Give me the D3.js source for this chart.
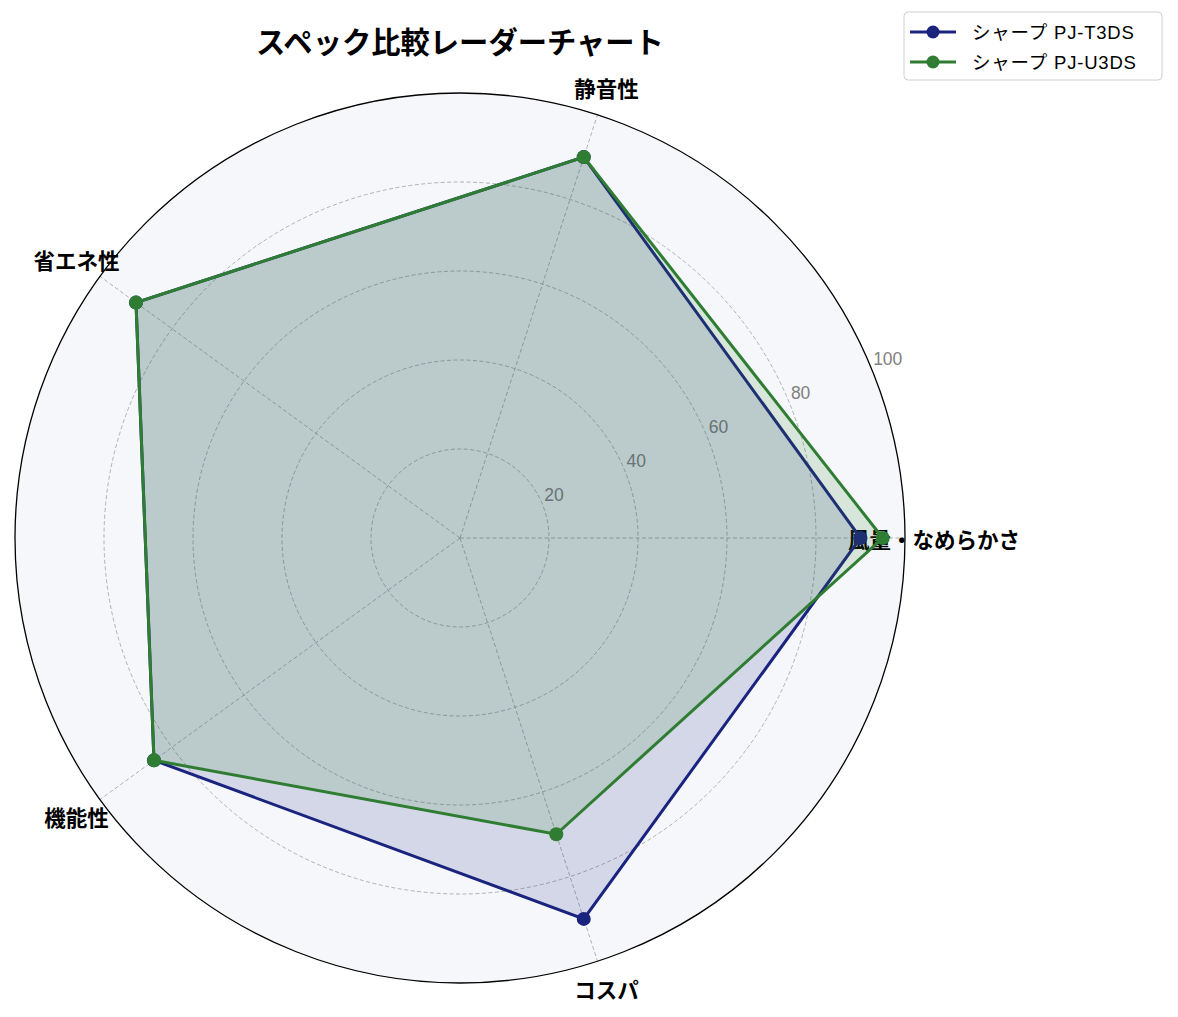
<!DOCTYPE html>
<html>
<head>
<meta charset="utf-8">
<script src="https://cdn.jsdelivr.net/npm/d3@7"></script>
<style>
  body { margin: 0; background: #fff; }
  svg { font-family: "Noto Sans CJK JP", "Noto Sans", sans-serif; }
</style>
</head>
<body>
<div id="chart"></div>
<script>
// data
const categories = ['風量・なめらかさ', '静音性', '省エネ性', '機能性', 'コスパ'];
const seriesNames = ['シャープ PJ-T3DS', 'シャープ PJ-U3DS'];
const valuesT3DS = [90, 90, 90, 85, 90];
const valuesU3DS = [95, 90, 90, 85, 70];
const radialTicks = [20, 40, 60, 80, 100];
const colors = ['#1a237e', '#2e7d32'];

const width = 1178, height = 1017;
const cx = 460, cy = 538, outerR = 445;

const svg = d3.select('#chart').append('svg')
  .attr('width', width)
  .attr('height', height);

const g = svg.append('g').attr('transform', `translate(${cx},${cy})`);

const r = d3.scaleLinear().domain([0, 100]).range([0, outerR]);
// angle in radians, counter-clockwise from the right
const angle = d3.scaleLinear().domain([0, categories.length]).range([0, 2 * Math.PI]);
const px = (i, v) => r(v) * Math.cos(angle(i));
const py = (i, v) => -r(v) * Math.sin(angle(i));

// background
g.append('circle').attr('r', outerR).attr('fill', '#f5f7fa');

// grid circles
g.selectAll('.grid')
  .data(radialTicks.slice(0, -1))
  .join('circle')
  .attr('class', 'grid')
  .attr('r', (d) => r(d))
  .attr('fill', 'none')
  .attr('stroke', '#a0a0a0')
  .attr('stroke-width', 0.8)
  .attr('stroke-dasharray', '4,2.5');

// spokes
g.selectAll('.spoke')
  .data(categories)
  .join('line')
  .attr('class', 'spoke')
  .attr('x1', 0).attr('y1', 0)
  .attr('x2', (d, i) => px(i, 100))
  .attr('y2', (d, i) => py(i, 100))
  .attr('stroke', '#a0a0a0')
  .attr('stroke-width', 0.8)
  .attr('stroke-dasharray', '4,2.5');

// outer border
g.append('circle').attr('r', outerR)
  .attr('fill', 'none').attr('stroke', '#000').attr('stroke-width', 1.3);

// radial tick labels
const tickAngle = 22.5 * Math.PI / 180;
g.selectAll('.rtick')
  .data(radialTicks)
  .join('text')
  .attr('class', 'rtick')
  .attr('x', (d) => r(d) * Math.cos(tickAngle) + 2)
  .attr('y', (d) => -r(d) * Math.sin(tickAngle) - 3)
  .attr('font-family', '"Liberation Sans", "Noto Sans", sans-serif')
  .attr('font-size', 17.5)
  .attr('fill', '#808080')
  .text((d) => d);

// category labels
g.selectAll('.cat')
  .data(categories)
  .join('text')
  .attr('class', 'cat')
  .attr('x', (d, i) => px(i, 106.5))
  .attr('y', (d, i) => py(i, 106.5))
  .attr('text-anchor', 'middle')
  .attr('dominant-baseline', 'central')
  .attr('font-size', 21.5)
  .attr('font-weight', 'bold')
  .attr('fill', '#000')
  .text((d) => d);

// series
const series = [valuesT3DS, valuesU3DS];
const line = d3.line().x((d) => d[0]).y((d) => d[1]);

series.forEach((vals, s) => {
  const pts = vals.map((v, i) => [px(i, v), py(i, v)]);
  g.append('path')
    .attr('d', line(pts) + 'Z')
    .attr('fill', colors[s])
    .attr('fill-opacity', 0.15)
    .attr('stroke', colors[s])
    .attr('stroke-width', 3)
    .attr('stroke-linejoin', 'miter');
  g.selectAll(`.pt${s}`)
    .data(pts)
    .join('circle')
    .attr('class', `pt${s}`)
    .attr('cx', (d) => d[0])
    .attr('cy', (d) => d[1])
    .attr('r', 7)
    .attr('fill', colors[s]);
});

// title
svg.append('text')
  .attr('x', cx)
  .attr('y', 53)
  .attr('text-anchor', 'middle')
  .attr('font-size', 29.3)
  .attr('font-weight', 'bold')
  .text('スペック比較レーダーチャート');

// legend
const legend = svg.append('g').attr('transform', 'translate(904,12)');
legend.append('rect')
  .attr('width', 258).attr('height', 68)
  .attr('rx', 4)
  .attr('fill', '#fff')
  .attr('stroke', '#d0d0d0')
  .attr('stroke-width', 1);

seriesNames.forEach((name, i) => {
  const y = 20 + i * 30;
  legend.append('line')
    .attr('x1', 6).attr('x2', 52)
    .attr('y1', y).attr('y2', y)
    .attr('stroke', colors[i]).attr('stroke-width', 3);
  legend.append('circle')
    .attr('cx', 29).attr('cy', y).attr('r', 6.5)
    .attr('fill', colors[i]);
  legend.append('text')
    .attr('x', 68).attr('y', y)
    .attr('dominant-baseline', 'central')
    .attr('font-family', '"Liberation Sans", "Noto Sans CJK JP", sans-serif')
    .attr('font-size', 18.5)
    .attr('letter-spacing', 0.8)
    .text(name);
});
</script>
</body>
</html>
